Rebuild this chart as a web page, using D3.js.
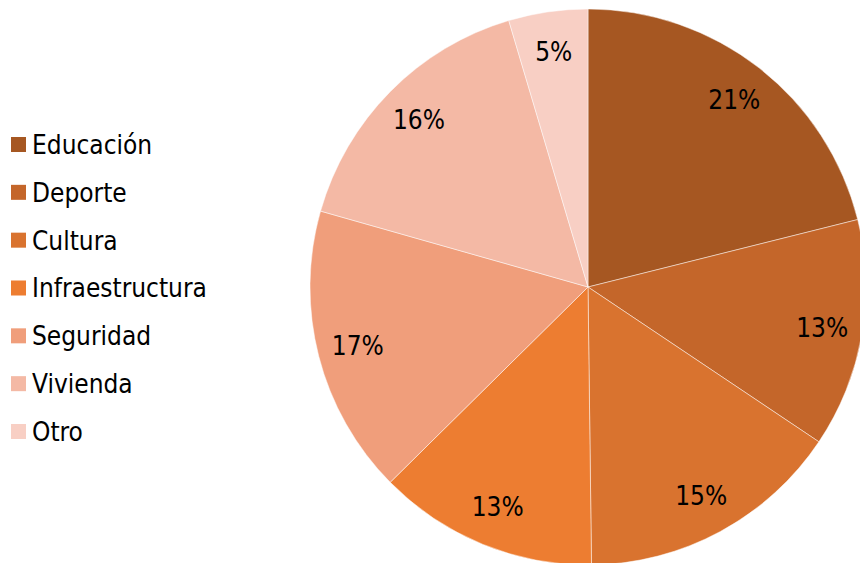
<!DOCTYPE html>
<html><head><meta charset="utf-8">
<script src="https://cdn.jsdelivr.net/npm/d3@7/dist/d3.min.js"></script>
<style>
html,body{margin:0;padding:0;background:#fff;}
svg{display:block;}
text{font-family:"DejaVu Sans Condensed","DejaVu Sans",sans-serif;}
</style></head>
<body>
<svg id="chart" width="860" height="563"></svg>
<script>
const categories = ["Educación","Deporte","Cultura","Infraestructura","Seguridad","Vivienda","Otro"];
const values = [21.1, 13.3, 15.4, 12.8, 16.8, 16.0, 4.6];
const colors = ["#A65722","#C4662A","#D9732F","#ED7D31","#F09E7B","#F4B9A5","#F8CFC4"];

const svg = d3.select("#chart");
const cx = 588, cy = 287, R = 278;
const total = d3.sum(values);
const data = categories.map((c,i)=>({name:c, value:values[i], color:colors[i]}));

const pie = d3.pie().value(d=>d.value).sort(null);
const arc = d3.arc().innerRadius(0).outerRadius(R);
const labelArc = d3.arc().innerRadius(R*0.855).outerRadius(R*0.855);

const g = svg.append("g").attr("transform",`translate(${cx},${cy})`);
const arcs = pie(data);
g.selectAll("path").data(arcs).join("path")
  .attr("d",arc)
  .attr("fill",d=>d.data.color)
  .attr("stroke","#fff").attr("stroke-width",0.8).attr("stroke-opacity",0.6);

g.selectAll("text.lbl").data(arcs).join("text")
  .attr("class","lbl")
  .attr("transform",d=>{const [x,y]=labelArc.centroid(d);return `translate(${x},${y})`;})
  .attr("text-anchor","middle").attr("dy","0.36em")
  .attr("font-size","26px").attr("fill","#000")
  .text(d=>Math.round(d.data.value/total*100)+"%");

const leg = svg.append("g");
const ly = d3.scalePoint().domain(categories).range([144.5,431.5]);
const items = leg.selectAll("g").data(data).join("g")
  .attr("transform",d=>`translate(0,${ly(d.name)})`);
items.append("rect").attr("x",11).attr("y",-7.5).attr("width",15).attr("height",15).attr("fill",d=>d.color);
items.append("text").attr("x",32).attr("dy","0.36em").attr("font-size","26px").attr("fill","#000").text(d=>d.name);
</script>
</body></html>
